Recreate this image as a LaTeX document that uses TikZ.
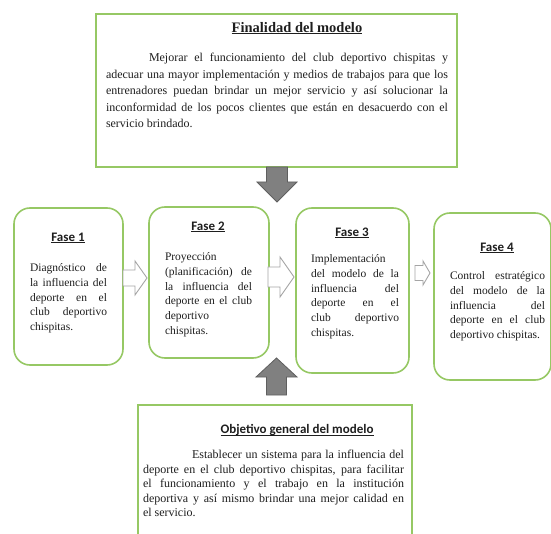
\documentclass[tikz,border=0pt]{standalone}
\usepackage{fontspec}
\setmainfont{Liberation Serif}
\newfontfamily\calfont{Carlito}
\definecolor{boxgreen}{RGB}{150,200,100}
\definecolor{textc}{RGB}{30,30,30}
\definecolor{arrowfill}{RGB}{128,128,128}
\definecolor{arrowline}{RGB}{95,95,95}
\definecolor{hollowline}{RGB}{165,165,165}
\newcommand{\myul}[1]{\setbox0\hbox{#1}\rlap{\rule[-1.8pt]{\wd0}{0.7pt}}\box0}
\hyphenpenalty=10000
\exhyphenpenalty=10000
\tolerance=10000
\begin{document}
\begin{tikzpicture}[x=1pt,y=-1pt,
  sqbox/.style={draw=boxgreen, line width=1.6pt, inner sep=0pt, outer sep=0pt},
  phase/.style={draw=boxgreen, line width=1.6pt, rounded corners=16pt, inner sep=0pt, outer sep=0pt},
  body/.style={anchor=north west, inner sep=0pt, outer sep=0pt, align=justify, text=textc},
  fasetext/.style={body, font=\fontsize{11.5}{14.8}\selectfont},
  fasehead/.style={inner sep=0pt, text=textc, font=\calfont\bfseries\fontsize{13}{15}\selectfont},
  bigarrow/.style={fill=arrowfill, draw=arrowline, line width=0.8pt, line join=miter},
  hollowarrow/.style={fill=white, draw=hollowline, line width=0.9pt, line join=miter}
]
\useasboundingbox (0,0) rectangle (551,534);

% top box
\node[sqbox, minimum width=361pt, minimum height=153pt] (fin) at (276.5,90.5) {};
\node[inner sep=0pt, text=textc, font=\bfseries\fontsize{14.5}{16}\selectfont] (finh) at (297,28) {\myul{Finalidad del modelo}};
\node[body, text width=342pt, font=\fontsize{12}{16.4}\selectfont] (fint) at (106,53.5) {\hspace*{43pt}Mejorar el funcionamiento del club deportivo chispitas y\linebreak adecuar una mayor implementación y medios de trabajos para que los\linebreak entrenadores puedan brindar un mejor servicio y así solucionar la\linebreak inconformidad de los pocos clientes que están en desacuerdo con el\linebreak servicio brindado.};

% phases
\node[phase, minimum width=109pt, minimum height=157pt] (f1) at (68.5,286.5) {};
\node[fasehead] (f1h) at (68,238) {\myul{Fase 1}};
\node[fasetext, text width=77pt] (f1t) at (30,263.5) {Diagnóstico de\linebreak la influencia del\linebreak deporte en el\linebreak club deportivo\linebreak chispitas.};

\node[phase, minimum width=120pt, minimum height=151pt] (f2) at (209,282.5) {};
\node[fasehead] (f2h) at (208,227) {\myul{Fase 2}};
\node[fasetext, text width=87pt] (f2t) at (165,252.5) {Proyección\linebreak (planificación) de\linebreak la influencia del\linebreak deporte en el club\linebreak deportivo\linebreak chispitas.};

\node[phase, minimum width=113pt, minimum height=165pt] (f3) at (352.5,290.5) {};
\node[fasehead] (f3h) at (352,233) {\myul{Fase 3}};
\node[fasetext, text width=88pt] (f3t) at (311,254.5) {Implementación\linebreak del modelo de la\linebreak influencia del\linebreak deporte en el\linebreak club deportivo\linebreak chispitas.};

\node[phase, minimum width=117pt, minimum height=167pt] (f4) at (492.5,296.5) {};
\node[fasehead] (f4h) at (497,248) {\myul{Fase 4}};
\node[fasetext, text width=95pt] (f4t) at (450,271.5) {Control estratégico\linebreak del modelo de la\linebreak influencia del\linebreak deporte en el club\linebreak deportivo chispitas.};

% bottom box
\node[sqbox, minimum width=274pt, minimum height=160pt] (obj) at (275,485) {};
\node[fasehead] (objh) at (297,430) {\myul{Objetivo general del modelo}};
\node[body, text width=261pt, font=\fontsize{12}{14.5}\selectfont] (objt) at (143,450.5) {\hspace*{49pt}Establecer un sistema para la influencia del\linebreak deporte en el club deportivo chispitas, para facilitar\linebreak el funcionamiento y el trabajo en la institución\linebreak deportiva y así mismo brindar una mejor calidad en\linebreak el servicio.};

% block arrows (down from top box, up from bottom box)
\draw[bigarrow] (266.5,167) -- (287.5,167) -- (287.5,182) -- (297,182) -- (277,202) -- (257,182) -- (266.5,182) -- cycle;
\draw[bigarrow] (266.5,395) -- (286.5,395) -- (286.5,377) -- (297,377) -- (276.5,358) -- (256,377) -- (266.5,377) -- cycle;

% hollow arrows between phases
\draw[hollowarrow] (123,270) -- (135,270) -- (135,261) -- (147,278) -- (135,295) -- (135,286) -- (123,286) -- cycle;
\draw[hollowarrow] (268,267) -- (280,267) -- (280,257) -- (294,277) -- (280,297) -- (280,287) -- (268,287) -- cycle;
\draw[hollowarrow] (415,265.5) -- (423,265.5) -- (423,261) -- (430,273) -- (423,285) -- (423,280.5) -- (415,280.5) -- cycle;
\end{tikzpicture}
\end{document}
